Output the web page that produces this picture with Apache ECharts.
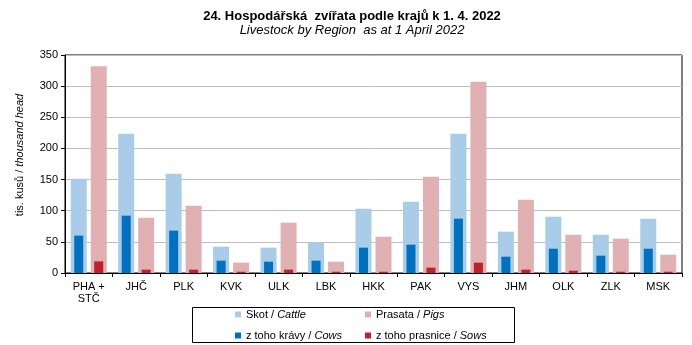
<!DOCTYPE html>
<html><head><meta charset="utf-8">
<script src="https://cdn.jsdelivr.net/npm/echarts@6/dist/echarts.min.js"></script>
<style>html,body{margin:0;padding:0;background:#fff}#c{width:692px;height:345px}</style>
</head><body><div id="c"></div>
<script>
const categories = ['PHA +\nSTČ','JHČ','PLK','KVK','ULK','LBK','HKK','PAK','VYS','JHM','OLK','ZLK','MSK'];
const cattle = [151.4,223.7,159.5,42.3,40.7,49.2,103.3,114.5,223.7,66.4,90.4,61.5,87.2];
const pigs   = [331.8,88.8,108.0,16.6,80.8,18.2,58.3,154.7,307.2,117.7,61.5,55.1,29.4];
const cows   = [60.0,92.0,68.0,19.8,18.2,19.8,40.7,45.5,87.2,26.2,39.0,27.8,39.0];
const sows   = [18.7,5.4,5.4,2.0,5.4,2.0,2.0,8.6,16.6,5.4,3.7,2.0,2.0];
const yTicks = [0,50,100,150,200,250,300,350];
const names = ['Skot / Cattle','Prasata / Pigs','z toho krávy / Cows','z toho prasnice / Sows'];

const FONT = 'Liberation Sans, Arial, sans-serif';
const chart = echarts.init(document.getElementById('c'), null, {renderer:'canvas'});
const legendFmt = n => { const p = n.split(' / '); return '{a|' + p[0] + ' / }{b|' + p[1] + '}'; };
const legendRich = { a:{fontFamily:FONT,fontSize:11,color:'#000'}, b:{fontFamily:FONT,fontSize:11,fontStyle:'italic',color:'#000'} };
function mkLegend(name, left, top) {
  return {
    data:[name], left:left, top:top, orient:'horizontal',
    itemWidth:6, itemHeight:6, itemGap:0, icon:'rect', padding:0,
    formatter: legendFmt, textStyle:{ rich: legendRich, fontFamily:FONT, fontSize:11 }, selectedMode:false
  };
}
chart.setOption({
  animation:false,
  textStyle:{fontFamily:FONT},
  title:{
    text:'24. Hospodářská  zvířata podle krajů k 1. 4. 2022',
    subtext:'Livestock by Region  as at 1 April 2022',
    left:347, textAlign:'center', top:5, itemGap:1,
    textStyle:{fontFamily:FONT,fontSize:13,fontWeight:'bold',color:'#000'},
    subtextStyle:{fontFamily:FONT,fontSize:13,fontStyle:'italic',color:'#000'}
  },
  grid:{left:65,right:10,top:55,bottom:72,show:true,borderColor:'#000',borderWidth:1},
  legend:[
    mkLegend(names[0], 235, 309),
    mkLegend(names[2], 235, 330),
    mkLegend(names[1], 365, 309),
    mkLegend(names[3], 365, 330)
  ],
  graphic:[
    {type:'rect', shape:{x:192.5,y:307.5,width:322,height:35}, style:{fill:'none',stroke:'#000',lineWidth:1}, z:-1},
    {type:'text', x:20, y:155, rotation:Math.PI/2, style:{
      text:'{a|tis. kusů / }{b|thousand head}', align:'center', verticalAlign:'middle',
      rich:{a:{fontFamily:FONT,fontSize:11,fill:'#000'}, b:{fontFamily:FONT,fontSize:11,fontStyle:'italic',fill:'#000'}}
    }}
  ],
  xAxis:[
    {type:'category', data:categories, boundaryGap:true,
     axisLine:{lineStyle:{color:'#000',width:1}},
     axisTick:{show:true,length:4,lineStyle:{color:'#000'}},
     axisLabel:{color:'#000',fontFamily:FONT,fontSize:11,margin:8,lineHeight:12,interval:0}},
    {type:'category', data:categories, show:false}
  ],
  yAxis:{type:'value', min:yTicks[0], max:yTicks[yTicks.length-1], interval:50,
    axisLine:{show:true,lineStyle:{color:'#000',width:1}},
    axisTick:{show:true,length:4,lineStyle:{color:'#000'}},
    axisLabel:{color:'#000',fontFamily:FONT,fontSize:11,margin:7},
    splitLine:{lineStyle:{color:'#BEBEBE',width:1}}
  },
  series:[
    {name:names[0], type:'bar', xAxisIndex:0, data:cattle, barWidth:16, barGap:'25%', itemStyle:{color:'#A9CDE8'}, z:2},
    {name:names[1], type:'bar', xAxisIndex:0, data:pigs, barWidth:16, barGap:'25%', itemStyle:{color:'#E1B0B3'}, z:2},
    {name:names[2], type:'bar', xAxisIndex:1, data:cows, barWidth:9, barGap:'122%', itemStyle:{color:'#0070C0'}, z:3},
    {name:names[3], type:'bar', xAxisIndex:1, data:sows, barWidth:9, barGap:'122%', itemStyle:{color:'#C0202A'}, z:3}
  ]
});
</script></body></html>
